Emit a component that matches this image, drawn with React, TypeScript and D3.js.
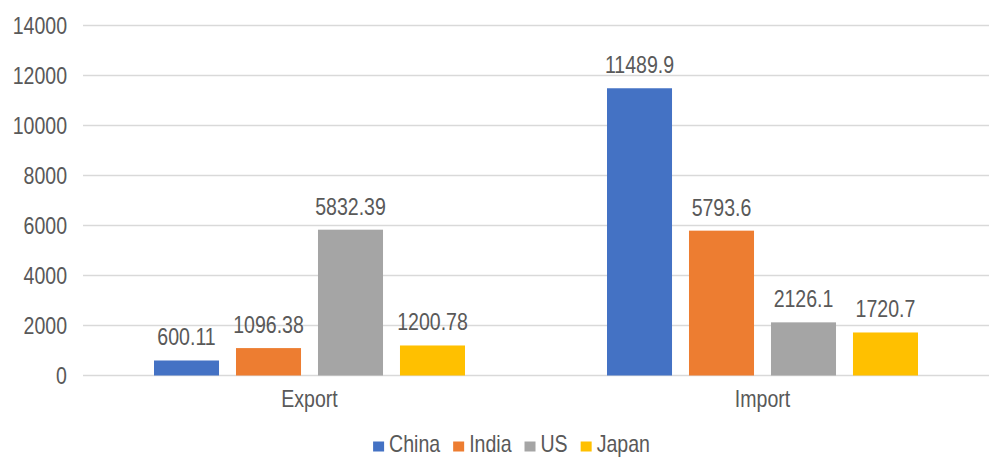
import React, { useEffect, useRef } from 'react';
import * as d3 from 'd3';

const categories = ['Export', 'Import'];
const seriesNames = ['China', 'India', 'US', 'Japan'];
const china = [600.11, 11489.9];
const india = [1096.38, 5793.6];
const us = [5832.39, 2126.1];
const japan = [1200.78, 1720.7];
const yTicks = [0, 2000, 4000, 6000, 8000, 10000, 12000, 14000];

const colors = ['#4472C4', '#ED7D31', '#A5A5A5', '#FFC000'];
const seriesValues = [china, india, us, japan];

const W = 994;
const H = 457;
const FONT = '"Liberation Sans", Arial, sans-serif';
const SQUEEZE = 0.85;

export default function App() {
  const svgRef = useRef<SVGSVGElement>(null);

  useEffect(() => {
    if (!svgRef.current) return;
    const svg = d3.select(svgRef.current);
    svg.selectAll('*').remove();

    const x0 = d3.scaleBand<string>().domain(categories).range([83, 989]);
    const x1 = d3.scaleBand<string>()
      .domain(seriesNames)
      .range([71, x0.bandwidth() - 71])
      .paddingInner(0.207);
    const y = d3.scaleLinear().domain([0, 14000]).range([375.5, 25.5]);

    // squeezed text helper
    const text = (g: any, tx: number, ty: number, s: string, anchor: string) =>
      g.append('g')
        .attr('transform', `translate(${tx},${ty}) scale(${SQUEEZE},1)`)
        .append('text')
        .attr('text-anchor', anchor)
        .attr('font-family', FONT)
        .attr('font-size', 23)
        .attr('fill', '#595959')
        .text(s);

    // Grid lines
    svg.append('g')
      .selectAll('line')
      .data(yTicks)
      .enter()
      .append('line')
      .attr('x1', 83)
      .attr('x2', 989)
      .attr('y1', d => y(d))
      .attr('y2', d => y(d))
      .attr('stroke', '#d9d9d9')
      .attr('stroke-width', 1.3);

    // Y tick labels
    const yl = svg.append('g');
    yTicks.forEach(t => text(yl, 67, y(t) + 8, String(t), 'end'));

    // Bars + labels
    const bars = svg.append('g');
    const labels = svg.append('g');
    seriesNames.forEach((name, si) => {
      categories.forEach((cat, ci) => {
        const v = seriesValues[si][ci];
        const bx = (x0(cat) || 0) + (x1(name) || 0);
        bars.append('rect')
          .attr('x', bx)
          .attr('y', y(v))
          .attr('width', x1.bandwidth())
          .attr('height', y(0) - y(v))
          .attr('fill', colors[si]);
        text(labels, bx + x1.bandwidth() / 2, y(v) - 15, String(v), 'middle');
      });
    });

    // Category labels
    const xl = svg.append('g');
    categories.forEach(c => text(xl, (x0(c) || 0) + x0.bandwidth() / 2, 407, c, 'middle'));

    // Legend
    const lg = svg.append('g');
    const items = seriesNames.map((n, i) => {
      const g = lg.append('g');
      g.append('rect').attr('x', 0).attr('y', 441.5).attr('width', 11).attr('height', 10).attr('fill', colors[i]);
      const t = text(g, 16, 452, n, 'start');
      const w = (t.node() as SVGTextElement).getComputedTextLength() * SQUEEZE;
      return { g, w: 16 + w };
    });
    const gap = 13;
    const total = d3.sum(items, d => d.w) + gap * (items.length - 1);
    let cx = 511.5 - total / 2;
    items.forEach(it => {
      it.g.attr('transform', `translate(${cx},0)`);
      cx += it.w + gap;
    });
  }, []);

  return (
    <svg
      ref={svgRef}
      width={W}
      height={H}
      style={{ position: 'absolute', left: 0, top: 0, background: '#fff' }}
    />
  );
}
